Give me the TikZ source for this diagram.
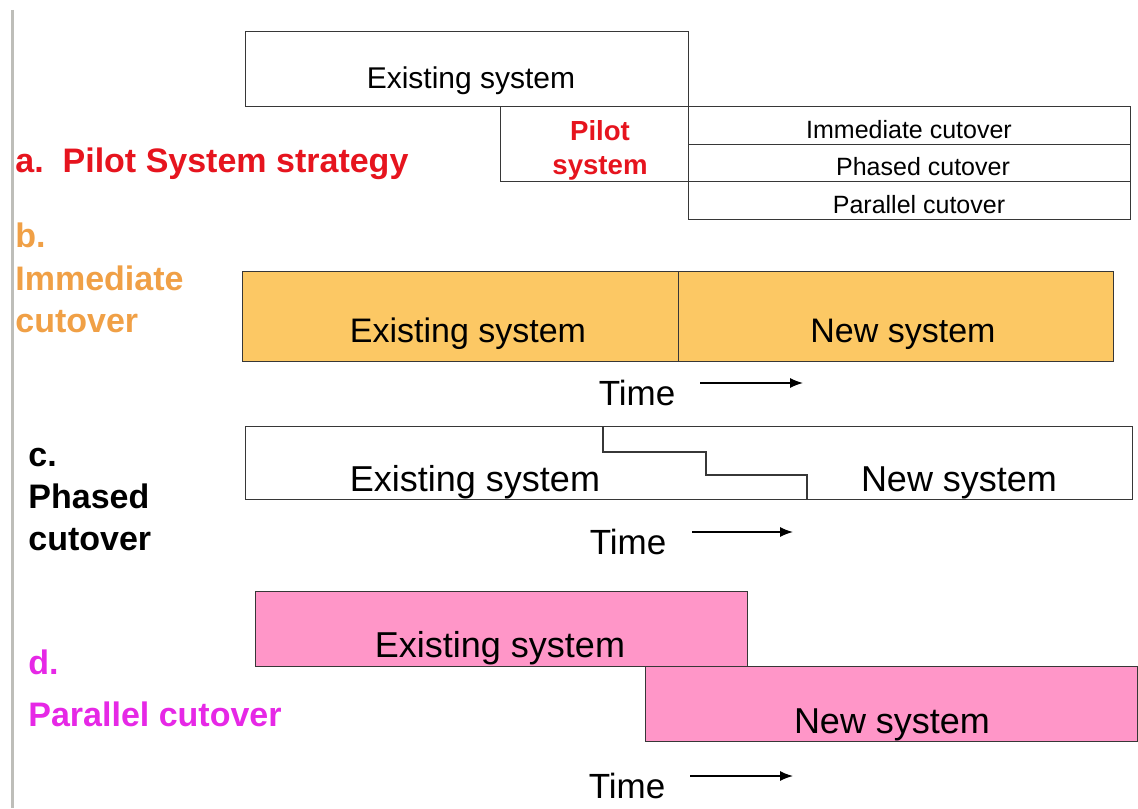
\documentclass[tikz,border=0pt]{standalone}
\usepackage{fontspec}
\setmainfont{Liberation Sans}
\usetikzlibrary{arrows.meta}
\definecolor{pilotred}{RGB}{230,20,30}
\definecolor{immorange}{RGB}{240,160,70}
\definecolor{immfill}{RGB}{252,200,100}
\definecolor{parmagenta}{RGB}{230,40,230}
\definecolor{parfill}{RGB}{255,150,200}
\definecolor{edgegray}{RGB}{55,55,55}
\tikzset{
    sysbox/.style={rectangle,draw=edgegray,line width=0.7pt, anchor=north west, inner sep=0},
    boxtext/.style={anchor=base, inner sep=0, font=\fontsize{17.5}{21}\selectfont},
    smalltext/.style={anchor=base, inner sep=0, font=\fontsize{12.5}{15}\selectfont},
    steplabel/.style={anchor=base west, inner sep=0, font=\bfseries\fontsize{17}{21}\selectfont},
    timearrow/.style={line width=0.7pt, -{Latex[length=6.5pt,width=5pt]}}
}
\begin{document}
\begin{tikzpicture}[x=0.5pt,y=-0.5pt]
    \useasboundingbox (0,0) rectangle (1138,808);
    \draw[line width=1.5pt, color={rgb,255:red,190;green,190;blue,185}] (12,10) -- (12,808);

    % a. pilot system
    \node[sysbox, minimum width=221.5pt, minimum height=37.5pt] (pexist) at (245,31) {};
    \node[sysbox, minimum width=94pt, minimum height=37.5pt] (pilot) at (500,106) {};
    \node[sysbox, minimum width=221pt, minimum height=18.75pt] (rowimm) at (688,106) {};
    \node[sysbox, minimum width=221pt, minimum height=18.75pt] (rowpha) at (688,143.5) {};
    \node[sysbox, minimum width=221pt, minimum height=18.75pt] (rowpar) at (688,181) {};
    \node[boxtext, font=\fontsize{15}{18}\selectfont] at (471,89) {Existing system};
    \node[boxtext, font=\bfseries\fontsize{13.8}{16}\selectfont, text=pilotred] at (600,140) {Pilot};
    \node[boxtext, font=\bfseries\fontsize{13.8}{16}\selectfont, text=pilotred] at (600,174) {system};
    \node[smalltext] at (909,138) {Immediate cutover};
    \node[smalltext] at (923,175) {Phased cutover};
    \node[smalltext] at (919,213) {Parallel cutover};
    \node[steplabel, text=pilotred] (laba) at (15,172) {a.\ \ Pilot System strategy};

    % b. immediate cutover
    \node[sysbox, fill=immfill, minimum width=218pt, minimum height=45pt] (iexist) at (242,271) {};
    \node[sysbox, fill=immfill, minimum width=217.5pt, minimum height=45pt] (inew) at (678,271) {};
    \node[boxtext, font=\fontsize{17}{21}\selectfont] at (468,342) {Existing system};
    \node[boxtext, font=\fontsize{17}{21}\selectfont] at (903,342) {New system};
    \node[steplabel, text=immorange] at (15,247) {b.};
    \node[steplabel, text=immorange] at (15,290) {Immediate};
    \node[steplabel, text=immorange] at (15,332) {cutover};
    \node[boxtext] (itime) at (637,405) {Time};
    \coordinate (itail) at (700,383);
    \coordinate (ihead) at (803,383);
    \draw[timearrow] (itail) -- (ihead);

    % c. phased cutover
    \node[sysbox, minimum width=443.5pt, minimum height=36.5pt] (phase) at (245,426) {};
    \draw[line width=0.7pt, edgegray] (603,426) |- (706,452) |- (807,475) -- (807,499);
    \node[boxtext, font=\fontsize{18}{21}\selectfont] at (475,491) {Existing system};
    \node[boxtext, font=\fontsize{18}{21}\selectfont] at (959,491) {New system};
    \node[steplabel] at (28,466) {c.};
    \node[steplabel] at (28,508) {Phased};
    \node[steplabel] at (28,550) {cutover};
    \node[boxtext] (ptime) at (628,554) {Time};
    \coordinate (ptail) at (692,532);
    \coordinate (phead) at (793,532);
    \draw[timearrow] (ptail) -- (phead);

    % d. parallel cutover
    \node[sysbox, fill=parfill, minimum width=246pt, minimum height=37.5pt] (dexist) at (255,591) {};
    \node[sysbox, fill=parfill, minimum width=246pt, minimum height=37.5pt] (dnew) at (645,666) {};
    \node[boxtext, font=\fontsize{18}{21}\selectfont] at (500,657) {Existing system};
    \node[boxtext, font=\fontsize{18}{21}\selectfont] at (892,733) {New system};
    \node[steplabel, text=parmagenta] at (28,674) {d.};
    \node[steplabel, text=parmagenta] at (28,726) {Parallel cutover};
    \node[boxtext] (dtime) at (627,798) {Time};
    \coordinate (dtail) at (690,776);
    \coordinate (dhead) at (793,776);
    \draw[timearrow] (dtail) -- (dhead);
\end{tikzpicture}
\end{document}
